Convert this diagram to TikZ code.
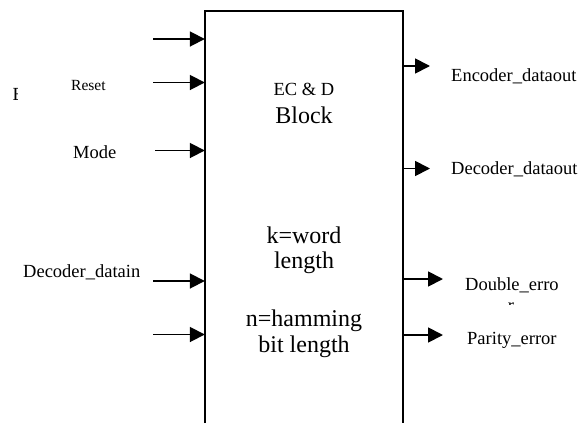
\documentclass[tikz,border=0pt]{standalone}
\usepackage{fontspec}
\setmainfont{Liberation Serif}
\usetikzlibrary{arrows.meta,calc}
\begin{document}
\begin{tikzpicture}[x=1pt,y=-1pt,
  sig/.style={-{Triangle[length=15pt,width=15pt]}, line width=1.8pt},
  boxline/.style={line width=1.9pt},
  lbl/.style={inner sep=0pt, anchor=base west, font=\fontsize{18.5}{22}\selectfont},
  smalllbl/.style={inner sep=0pt, anchor=base west, font=\fontsize{15.5}{18}\selectfont},
  intxt/.style={inner sep=0pt, anchor=base, font=\fontsize{24}{27}\selectfont},
  headtxt/.style={inner sep=0pt, anchor=base, font=\fontsize{18.5}{22}\selectfont}]
\useasboundingbox (0,0) rectangle (586,423);
% block
\node[minimum width=198pt, minimum height=412pt, inner sep=0pt] (blk) at (304,217) {};
\draw[boxline] (blk.south west) -- (blk.north west) -- (blk.north east) -- (blk.south east);
% block texts
\node[headtxt] (t1) at (304,95) {EC \& D};
\node[intxt] (t2) at (304,123) {Block};
\node[intxt] (t3) at (304,243) {k=word};
\node[intxt] (t4) at (304,268) {length};
\node[intxt] (t5) at (304,326) {n=hamming};
\node[intxt] (t6) at (304,352) {bit length};
% input labels
\begin{scope}
\clip (0,80) rectangle (17.5,106);
\node[lbl] (lclip) at (12.5,100) {E};
\end{scope}
\node[smalllbl] (lreset) at (71,90.5) {Reset};
\node[lbl] (lmode) at (73,158) {Mode};
\node[lbl] (ldin) at (23,277.5) {Decoder\_datain};
% input arrows
\coordinate (a1) at (153,39);
\coordinate (a2) at (153,82.5);
\coordinate (a3) at (155,150.5);
\coordinate (a4) at (153,281);
\coordinate (a5) at (153,334.5);
\foreach \c in {a1,a2,a3,a4,a5}
  \draw[sig] (\c) -- (\c -| blk.west);
% output arrows
\coordinate (o1) at (430,66);
\coordinate (o2) at (430,168.5);
\coordinate (o3) at (443,279);
\coordinate (o4) at (443,335);
\foreach \c in {o1,o2,o3,o4}
  \draw[sig] (\c -| blk.east) -- (\c);
% output labels
\node[lbl] (lenc) at (451,81) {Encoder\_dataout};
\node[lbl] (ldec) at (451,174.5) {Decoder\_dataout};
\node[lbl] (ldbl) at (465,290) {Double\_erro};
\begin{scope}
\clip (500,299) rectangle (522,304.5);
\node[headtxt] (ldblr) at (511,311) {r};
\end{scope}
\node[lbl] (lpar) at (467,344) {Parity\_error};
\end{tikzpicture}
\end{document}
